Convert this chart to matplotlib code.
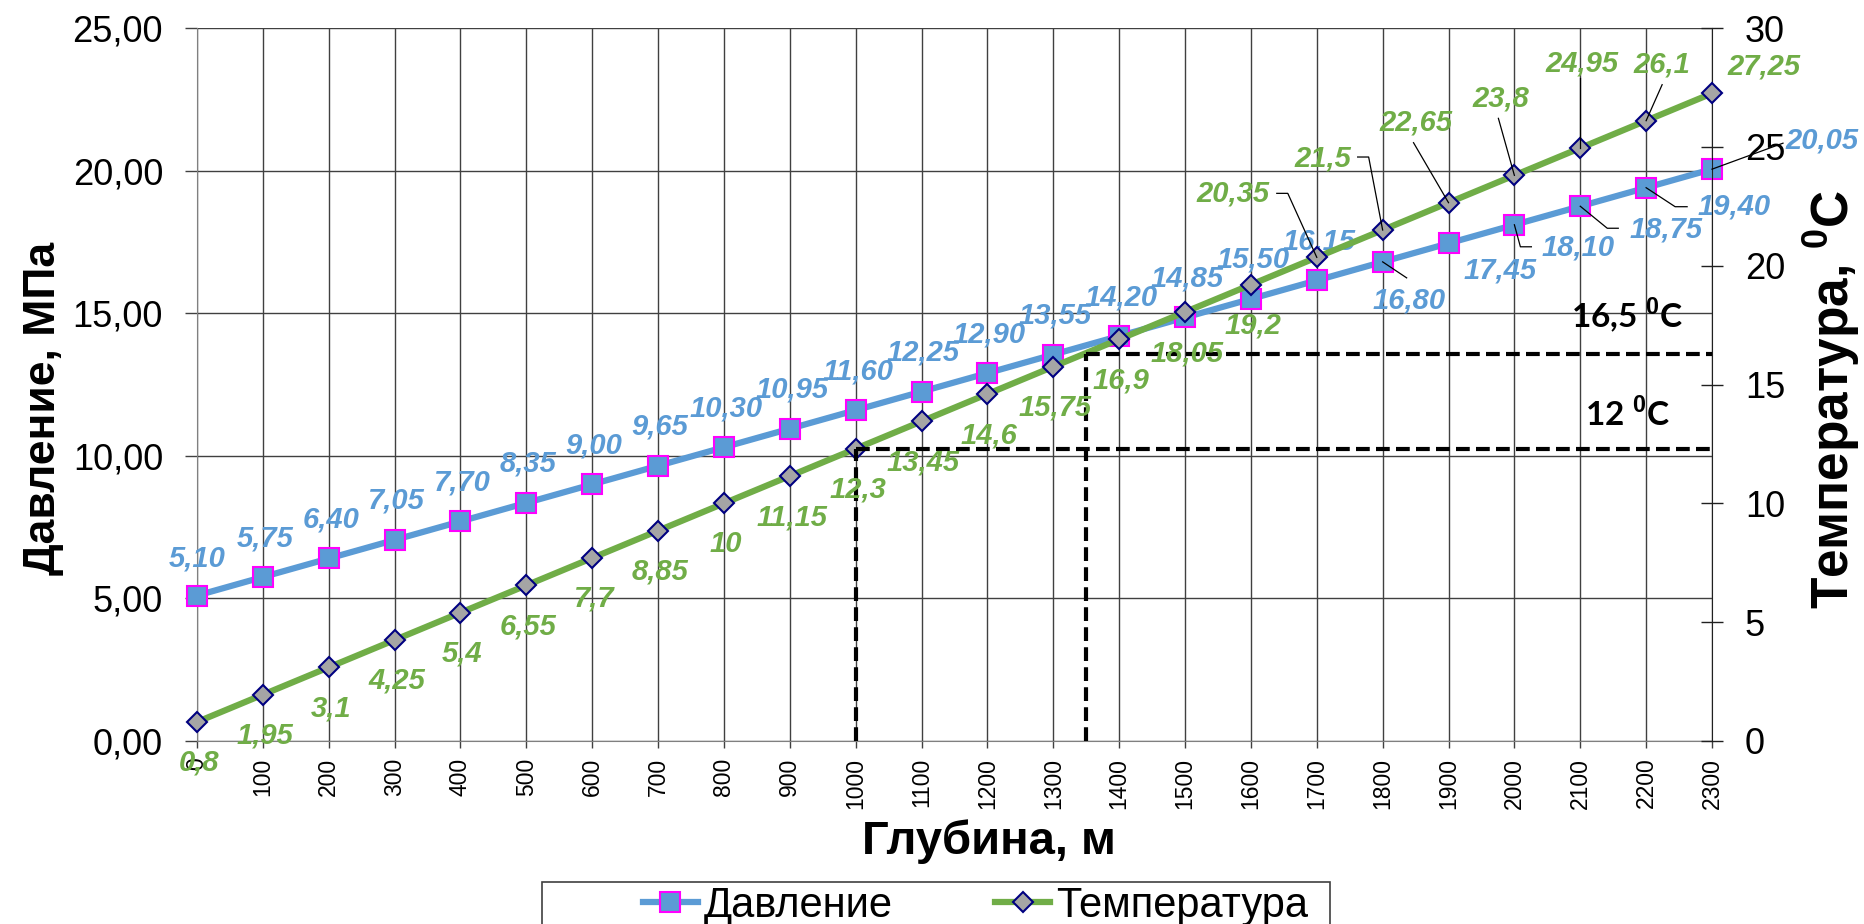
import matplotlib
matplotlib.use("Agg")
import matplotlib.pyplot as plt
from matplotlib.lines import Line2D
from matplotlib.patches import Rectangle
import matplotlib.transforms as mtransforms

plt.rcParams['font.family'] = ['Liberation Sans', 'DejaVu Sans']
plt.rcParams['mathtext.fontset'] = 'custom'
plt.rcParams['mathtext.rm'] = 'Liberation Sans'
plt.rcParams['mathtext.bf'] = 'Liberation Sans:bold'

# ---------------- data ----------------
depth = [0, 100, 200, 300, 400, 500, 600, 700, 800, 900, 1000, 1100,
         1200, 1300, 1400, 1500, 1600, 1700, 1800, 1900, 2000, 2100, 2200, 2300]
pressure = [5.10, 5.75, 6.40, 7.05, 7.70, 8.35, 9.00, 9.65, 10.30, 10.95, 11.60, 12.25,
            12.90, 13.55, 14.20, 14.85, 15.50, 16.15, 16.80, 17.45, 18.10, 18.75, 19.40, 20.05]
temperature = [0.8, 1.95, 3.1, 4.25, 5.4, 6.55, 7.7, 8.85, 10, 11.15, 12.3, 13.45,
               14.6, 15.75, 16.9, 18.05, 19.2, 20.35, 21.5, 22.65, 23.8, 24.95, 26.1, 27.25]
depth_labels = [str(d) for d in depth]
pressure_ticks = [0, 5, 10, 15, 20, 25]
temp_ticks = [0, 5, 10, 15, 20, 25, 30]
guide_depths = [1000, 1350]
guide_temps = [12.3, 16.3]
guide_texts = [r"12 $^{\mathbf{0}}$C", r"16,5 $^{\mathbf{0}}$C"]
series_names = ["Давление", "Температура"]
x_title = "Глубина, м"
y_title = "Давление, МПа"
y2_title = r"Температура, $^{\mathbf{0}}$C"

# ---------------- styling / layout ----------------
W, H, DPI = 1865, 924, 100
BLUE, GREEN = '#5B9BD5', '#70AD47'
GRID = '#404040'

def fx(px):
    return px / W

def fy(py):
    return 1 - py / H

# label offsets in pixels (dx right, dy down) relative to each marker
p_off = [(0, -37)] + [(2, -39)] * 17 + [(26, 39), (52, 27), (64, 23), (86, 23), (88, 19), (110, -29)]
t_off = [(2, 41)] * 17 + [(-84, -64), (-60, -72), (-33, -80), (-14, -77), (2, -85), (16, -56), (52, -27)]
# leader-line vertex offsets (pixels, dy down) relative to marker
p_lead = {18: [(0, 0), (24, 16)], 20: [(0, 0), (6, 22), (17, 22)],
          21: [(0, 0), (27, 22), (38, 22)], 22: [(0, 0), (29, 19), (41, 19)],
          23: [(0, 0), (71, -26)]}
t_lead = {17: [(0, 0), (-29, -64), (-40, -64)], 18: [(0, 0), (-14, -73), (-25, -73)],
          19: [(0, 0), (-35, -60)], 20: [(0, 0), (-16, -57)], 21: [(0, 0), (0, -70)],
          22: [(0, 0), (16, -36)]}

fig = plt.figure(figsize=(W / DPI, H / DPI), dpi=DPI)
ax = fig.add_axes([fx(197), fy(741), fx(1712) - fx(197), fy(28) - fy(741)])
ax2 = ax.twinx()

ax.set_xlim(depth[0], depth[-1])
ax.set_ylim(pressure_ticks[0], pressure_ticks[-1])
ax2.set_ylim(temp_ticks[0], temp_ticks[-1])

ax.set_xticks(depth)
ax.set_xticklabels(depth_labels, rotation=90)
ax.set_yticks(pressure_ticks)
ax.set_yticklabels([f"{v:.2f}".replace('.', ',') for v in pressure_ticks])
ax2.set_yticks(temp_ticks)
ax2.set_yticklabels([str(v) for v in temp_ticks])

ax.set_axisbelow(True)
ax.grid(True, color=GRID, lw=1)

ax.tick_params(axis='y', direction='out', length=8.6, width=1, pad=15.8, labelsize=26, color=GRID)
ax.tick_params(axis='x', direction='out', length=5, width=1, pad=7, labelsize=16.5, color=GRID)
ax2.tick_params(axis='y', direction='inout', length=15.8, width=1, pad=15.8, labelsize=26, color='#202020')

for s in ['top', 'right']:
    ax.spines[s].set_visible(False)
for s in ['top', 'left', 'bottom']:
    ax2.spines[s].set_visible(False)
ax.spines['left'].set_color('#808080')
ax.spines['bottom'].set_color('#808080')
ax2.spines['right'].set_color('#202020')

# series
ax.plot(depth, pressure, color=BLUE, lw=4.5, marker='s', ms=15, mfc=BLUE, mec='#FF00FF',
        mew=1.5, zorder=3, clip_on=False)
ax2.plot(depth, temperature, color=GREEN, lw=4.5, marker='D', ms=10.5, mfc='#A5A5A5',
         mec='#000080', mew=1.5, zorder=3, clip_on=False)

# guide lines
dash = (0, (3.3, 1.5))
for d, t in zip(guide_depths, guide_temps):
    ax2.plot([d, depth[-1]], [t, t], color='black', lw=3, ls=dash, zorder=4, clip_on=False)
    ax2.plot([d, d], [temp_ticks[0], t], color='black', lw=3, ls=dash, zorder=4, clip_on=False)

guide_pos = [(1627, 413), (1627, 315)]
for (gx, gy), txt in zip(guide_pos, guide_texts):
    fig.text(fx(gx), fy(gy), txt, ha='center', va='center', fontsize=24,
             fontweight='bold', family=['Lato', 'DejaVu Sans'], color='black')

# data labels
lbl_kw = dict(textcoords='offset pixels', ha='center', va='center', fontsize=21,
              fontweight='bold', fontstyle='italic', annotation_clip=False, zorder=6)
for i, (d, v) in enumerate(zip(depth, pressure)):
    dx, dy = p_off[i]
    ax.annotate(f"{v:.2f}".replace('.', ','), (d, v), xytext=(dx, -dy), color=BLUE, **lbl_kw)
for i, (d, v) in enumerate(zip(depth, temperature)):
    dx, dy = t_off[i]
    ax2.annotate(f"{v:g}".replace('.', ','), (d, v), xytext=(dx, -dy), color=GREEN, **lbl_kw)

# leader lines
ident = mtransforms.IdentityTransform()
for axis, vals, leads in [(ax, pressure, p_lead), (ax2, temperature, t_lead)]:
    for i, verts in leads.items():
        px, py = axis.transData.transform((depth[i], vals[i]))
        xs = [px + ox for ox, oy in verts]
        ys = [py - oy for ox, oy in verts]
        fig.add_artist(Line2D(xs, ys, transform=ident, color='black', lw=0.9, zorder=10))

# axis titles
lab_kw = dict(fontweight='bold', ha='center', va='center')
fig.text(fx(44), fy(408), y_title, rotation=90, fontsize=32, **lab_kw)
fig.text(fx(1832), fy(399), y2_title, rotation=90, fontsize=37, **lab_kw)
fig.text(fx(989), fy(842), x_title, fontsize=34, **lab_kw)

# legend
handles = [Line2D([], [], color=BLUE, lw=4.5, marker='s', ms=15, mfc=BLUE, mec='#FF00FF', mew=1.5),
           Line2D([], [], color=GREEN, lw=4.5, marker='D', ms=10.5, mfc='#A5A5A5', mec='#000080', mew=1.5)]
fig.legend(handles, series_names, loc='upper left', bbox_to_anchor=(fx(643), fy(886)),
           ncol=2, frameon=False, fontsize=30, handlelength=1.32, handletextpad=0.15,
           columnspacing=2.45, borderpad=0, borderaxespad=0, numpoints=1)
fig.add_artist(Rectangle((fx(542), fy(960)), fx(1330) - fx(542), fy(882) - fy(960),
                         transform=fig.transFigure, fill=False, edgecolor=GRID, lw=1.2))

fig.savefig("out.png", dpi=DPI)
